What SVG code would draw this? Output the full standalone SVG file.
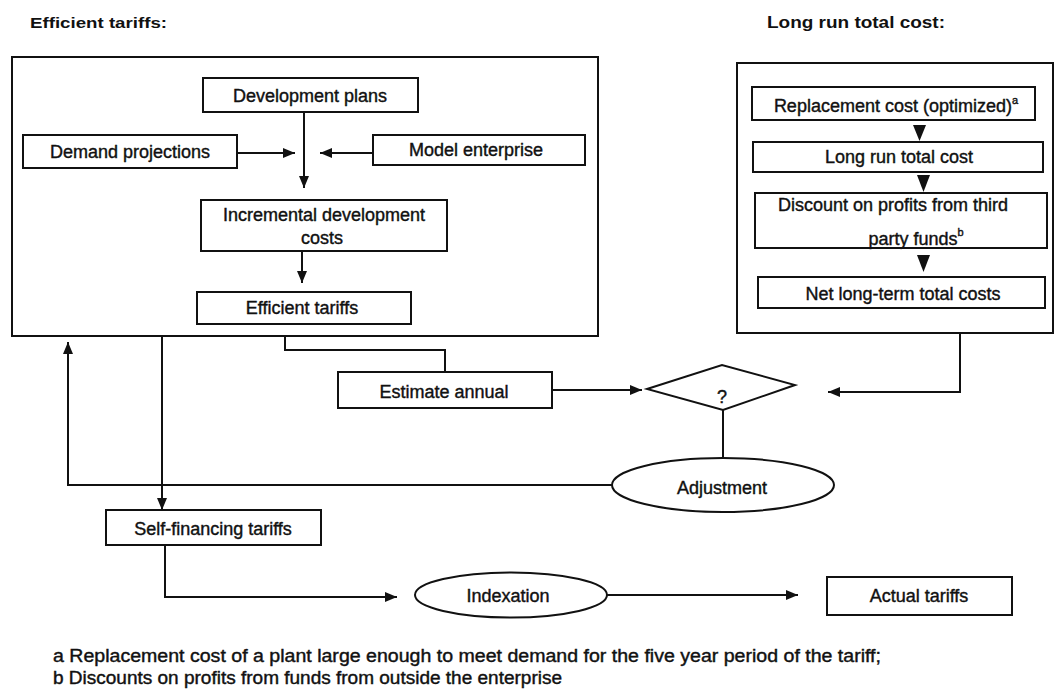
<svg xmlns="http://www.w3.org/2000/svg" width="1057" height="689" viewBox="0 0 1057 689">
<style>
.bx{fill:none;stroke:#111;stroke-width:2}
.ln{fill:none;stroke:#111;stroke-width:2}
.t{font-family:"Liberation Sans",Arial,sans-serif;font-size:18px;fill:#111;stroke:#111;stroke-width:0.4;text-anchor:middle}
.h{font-family:"Liberation Sans",Arial,sans-serif;font-weight:bold;fill:#111}
.fn{font-family:"Liberation Sans",Arial,sans-serif;font-size:17.5px;fill:#111;stroke:#111;stroke-width:0.4}
.tri{fill:#111}
</style>
<defs>
<marker id="ah" markerUnits="userSpaceOnUse" viewBox="0 0 12 10" markerWidth="12" markerHeight="10" refX="12" refY="5" orient="auto">
<path d="M0,0 L12,5 L0,10 z" fill="#111"/>
</marker>
</defs>
<rect width="1057" height="689" fill="#fff"/>

<g id="titles">
<text class="h" x="30" y="28" font-size="15" textLength="137" lengthAdjust="spacingAndGlyphs">Efficient tariffs:</text>
<text class="h" x="767" y="28" font-size="16" textLength="178" lengthAdjust="spacingAndGlyphs">Long run total cost:</text>
</g>

<g id="efficient-frame"><rect class="bx" x="12" y="57" width="586" height="279"/></g>
<g id="longrun-frame"><rect class="bx" x="737" y="63" width="316" height="270"/></g>

<g id="development-plans"><rect class="bx" x="203" y="78" width="215" height="34"/><text class="t" x="310" y="102">Development plans</text></g>
<g id="demand-projections"><rect class="bx" x="23" y="135" width="214" height="33"/><text class="t" x="130" y="158">Demand projections</text></g>
<g id="model-enterprise"><rect class="bx" x="373" y="135" width="212" height="30"/><text class="t" x="476" y="156">Model enterprise</text></g>
<g id="incremental-costs"><rect class="bx" x="201" y="200" width="246" height="51"/><text class="t" x="324" y="221">Incremental development</text><text class="t" x="322" y="244">costs</text></g>
<g id="efficient-tariffs"><rect class="bx" x="197" y="292" width="214" height="32"/><text class="t" x="302" y="314">Efficient tariffs</text></g>

<g id="replacement-cost"><rect class="bx" x="752" y="87" width="283" height="33"/><text class="t" x="896" y="112">Replacement cost (optimized)<tspan font-size="11" dy="-8">a</tspan></text></g>
<g id="long-run-total-cost"><rect class="bx" x="753" y="142" width="290" height="30"/><text class="t" x="899" y="163">Long run total cost</text></g>
<g id="discount-profits"><rect class="bx" x="755" y="193" width="292" height="55"/><text class="t" x="893" y="211">Discount on profits from third</text><text class="t" x="916" y="245">party funds<tspan font-size="11" dy="-9">b</tspan></text></g>
<g id="net-long-term"><rect class="bx" x="758" y="277" width="287" height="31"/><text class="t" x="903" y="300">Net long-term total costs</text></g>

<g id="estimate-annual"><rect class="bx" x="338" y="372" width="214" height="36"/><text class="t" x="444" y="398">Estimate annual</text></g>
<g id="decision"><polygon class="bx" points="647,389 722,365 795,385 723,410"/><text class="t" x="722" y="403">?</text></g>
<g id="adjustment"><ellipse class="bx" cx="723" cy="485" rx="111" ry="27"/><text class="t" x="722" y="494">Adjustment</text></g>
<g id="self-financing"><rect class="bx" x="106" y="510" width="215" height="35"/><text class="t" x="213" y="535">Self-financing tariffs</text></g>
<g id="indexation"><ellipse class="bx" cx="511" cy="595" rx="96" ry="22.5"/><text class="t" x="508" y="602">Indexation</text></g>
<g id="actual-tariffs"><rect class="bx" x="827" y="577" width="185" height="38"/><text class="t" x="919" y="602">Actual tariffs</text></g>

<g id="connectors">
<line class="ln" x1="237" y1="153" x2="295" y2="153" marker-end="url(#ah)"/>
<line class="ln" x1="373" y1="153" x2="320" y2="153" marker-end="url(#ah)"/>
<line class="ln" x1="304" y1="112" x2="304" y2="188" marker-end="url(#ah)"/>
<line class="ln" x1="302" y1="251" x2="302" y2="283" marker-end="url(#ah)"/>
<polyline class="ln" points="285,336 285,350 445,350 445,372"/>
<line class="ln" x1="552" y1="390" x2="642" y2="390" marker-end="url(#ah)"/>
<polyline class="ln" points="960,333 960,392 828,392" marker-end="url(#ah)"/>
<line class="ln" x1="723" y1="410" x2="723" y2="458"/>
<polyline class="ln" points="612,485 68,485 68,342" marker-end="url(#ah)"/>
<line class="ln" x1="162" y1="336" x2="162" y2="510" marker-end="url(#ah)"/>
<polyline class="ln" points="165,545 165,597 397,597" marker-end="url(#ah)"/>
<line class="ln" x1="607" y1="595" x2="798" y2="595" marker-end="url(#ah)"/>
<polygon class="tri" points="913,125 926,125 919.5,141"/>
<polygon class="tri" points="917,175 930,175 923.5,192"/>
<polygon class="tri" points="917,255 930,255 923.5,272"/>
</g>

<g id="footnotes">
<text class="fn" x="53" y="662" textLength="828" lengthAdjust="spacingAndGlyphs">a Replacement cost of a plant large enough to meet demand for the five year period of the tariff;</text>
<text class="fn" x="53" y="684" textLength="509" lengthAdjust="spacingAndGlyphs">b Discounts on profits from funds from outside the enterprise</text>
</g>
</svg>
